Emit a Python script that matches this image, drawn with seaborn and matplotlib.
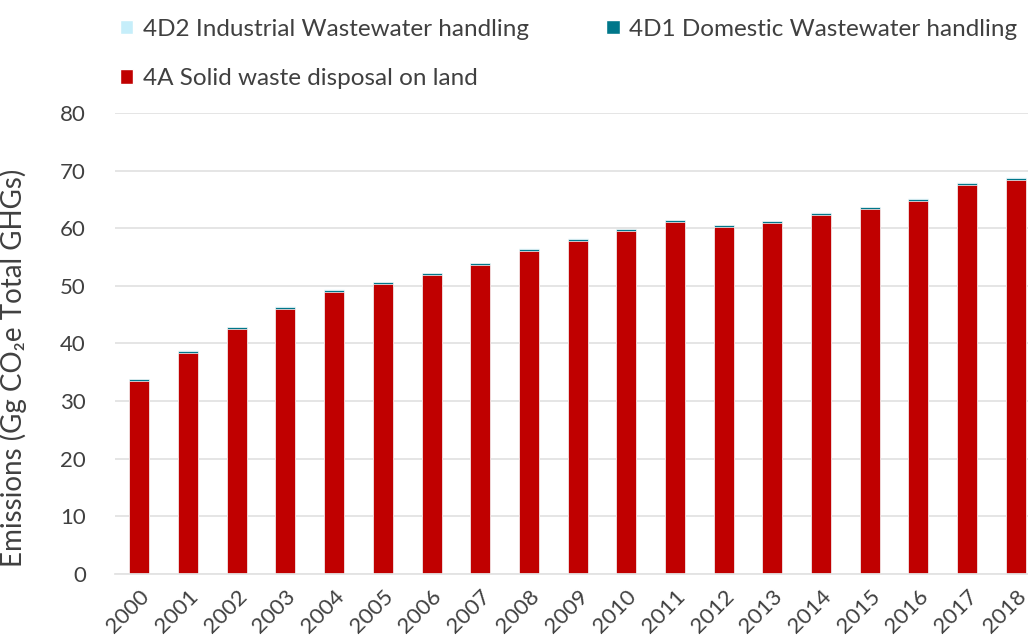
import matplotlib
matplotlib.use("Agg")
import matplotlib.pyplot as plt
import seaborn as sns
import pandas as pd
import numpy as np
from matplotlib.patches import Patch

years = [str(y) for y in range(2000, 2019)]
solid_waste_4A = [33.5, 38.4, 42.5, 46.05, 49.0, 50.3, 51.85, 53.6, 56.1, 57.85,
                  59.5, 61.0, 60.2, 60.85, 62.35, 63.3, 64.8, 67.55, 68.4]
domestic_4D1 = [0.33, 0.33, 0.33, 0.33, 0.33, 0.35, 0.35, 0.35, 0.35, 0.36,
                0.37, 0.37, 0.36, 0.36, 0.36, 0.36, 0.36, 0.37, 0.37]
industrial_4D2 = [0.06, 0.06, 0.06, 0.06, 0.06, 0.06, 0.06, 0.06, 0.06, 0.06,
                  0.06, 0.06, 0.06, 0.06, 0.06, 0.06, 0.06, 0.06, 0.06]

labels = ["4D2 Industrial Wastewater handling",
          "4D1 Domestic Wastewater handling",
          "4A Solid waste disposal on land"]
colors = {"4D2": "#C6EEFA", "4D1": "#00778A", "4A": "#C00000"}

sns.set_theme(style="white")
plt.rcParams['font.family'] = ['Lato', 'DejaVu Sans']

df = pd.DataFrame({"year": years, "4A": solid_waste_4A,
                   "4D1": domestic_4D1, "4D2": industrial_4D2})
df["c4D1"] = df["4A"] + df["4D1"]
df["c4D2"] = df["c4D1"] + df["4D2"]

fig = plt.figure(figsize=(10.28, 6.38), dpi=100)
ax = fig.add_axes([0.1119, 0.1003, 0.8881, 0.7226])

bw = 0.41
for col, key in [("c4D2", "4D2"), ("c4D1", "4D1"), ("4A", "4A")]:
    sns.barplot(data=df, x="year", y=col, ax=ax, color=colors[key], saturation=1,
                width=bw, edgecolor="white", linewidth=0.5, errorbar=None)

ax.set_xlim(-0.5, 18.25)
ax.set_ylim(0, 80)
ax.set_yticks(range(0, 81, 10))
ax.yaxis.grid(True, color="#E3E3E3", linewidth=1.3)
ax.set_axisbelow(True)
for s in ["top", "right", "left"]:
    ax.spines[s].set_visible(False)
ax.spines["bottom"].set_color("#E3E3E3")
ax.spines["bottom"].set_linewidth(1.3)
ax.tick_params(axis="y", labelsize=16, colors="#404040", length=0, pad=21)
ax.tick_params(axis="x", labelsize=16, colors="#404040", length=0, pad=9)
plt.setp(ax.get_xticklabels(), rotation=45, ha="right", rotation_mode="anchor")
ax.set_xlabel("")
ax.set_ylabel("Emissions (Gg CO\u2082e Total GHGs)", fontsize=20, color="#404040")
ax.yaxis.set_label_coords(-0.096, 0.447)

handles = [Patch(facecolor=colors["4D2"]), Patch(facecolor=colors["4A"]),
           Patch(facecolor=colors["4D1"])]
hl = [labels[0], labels[2], labels[1]]
leg = fig.legend(handles, hl, ncol=2, loc="upper left", bbox_to_anchor=(0.095, 1.005),
                 frameon=False, fontsize=17.5, handlelength=0.55, handleheight=0.55,
                 handletextpad=0.4, columnspacing=3.2, labelspacing=1.18,
                 labelcolor="#404040")

fig.savefig("out.png", dpi=100)
